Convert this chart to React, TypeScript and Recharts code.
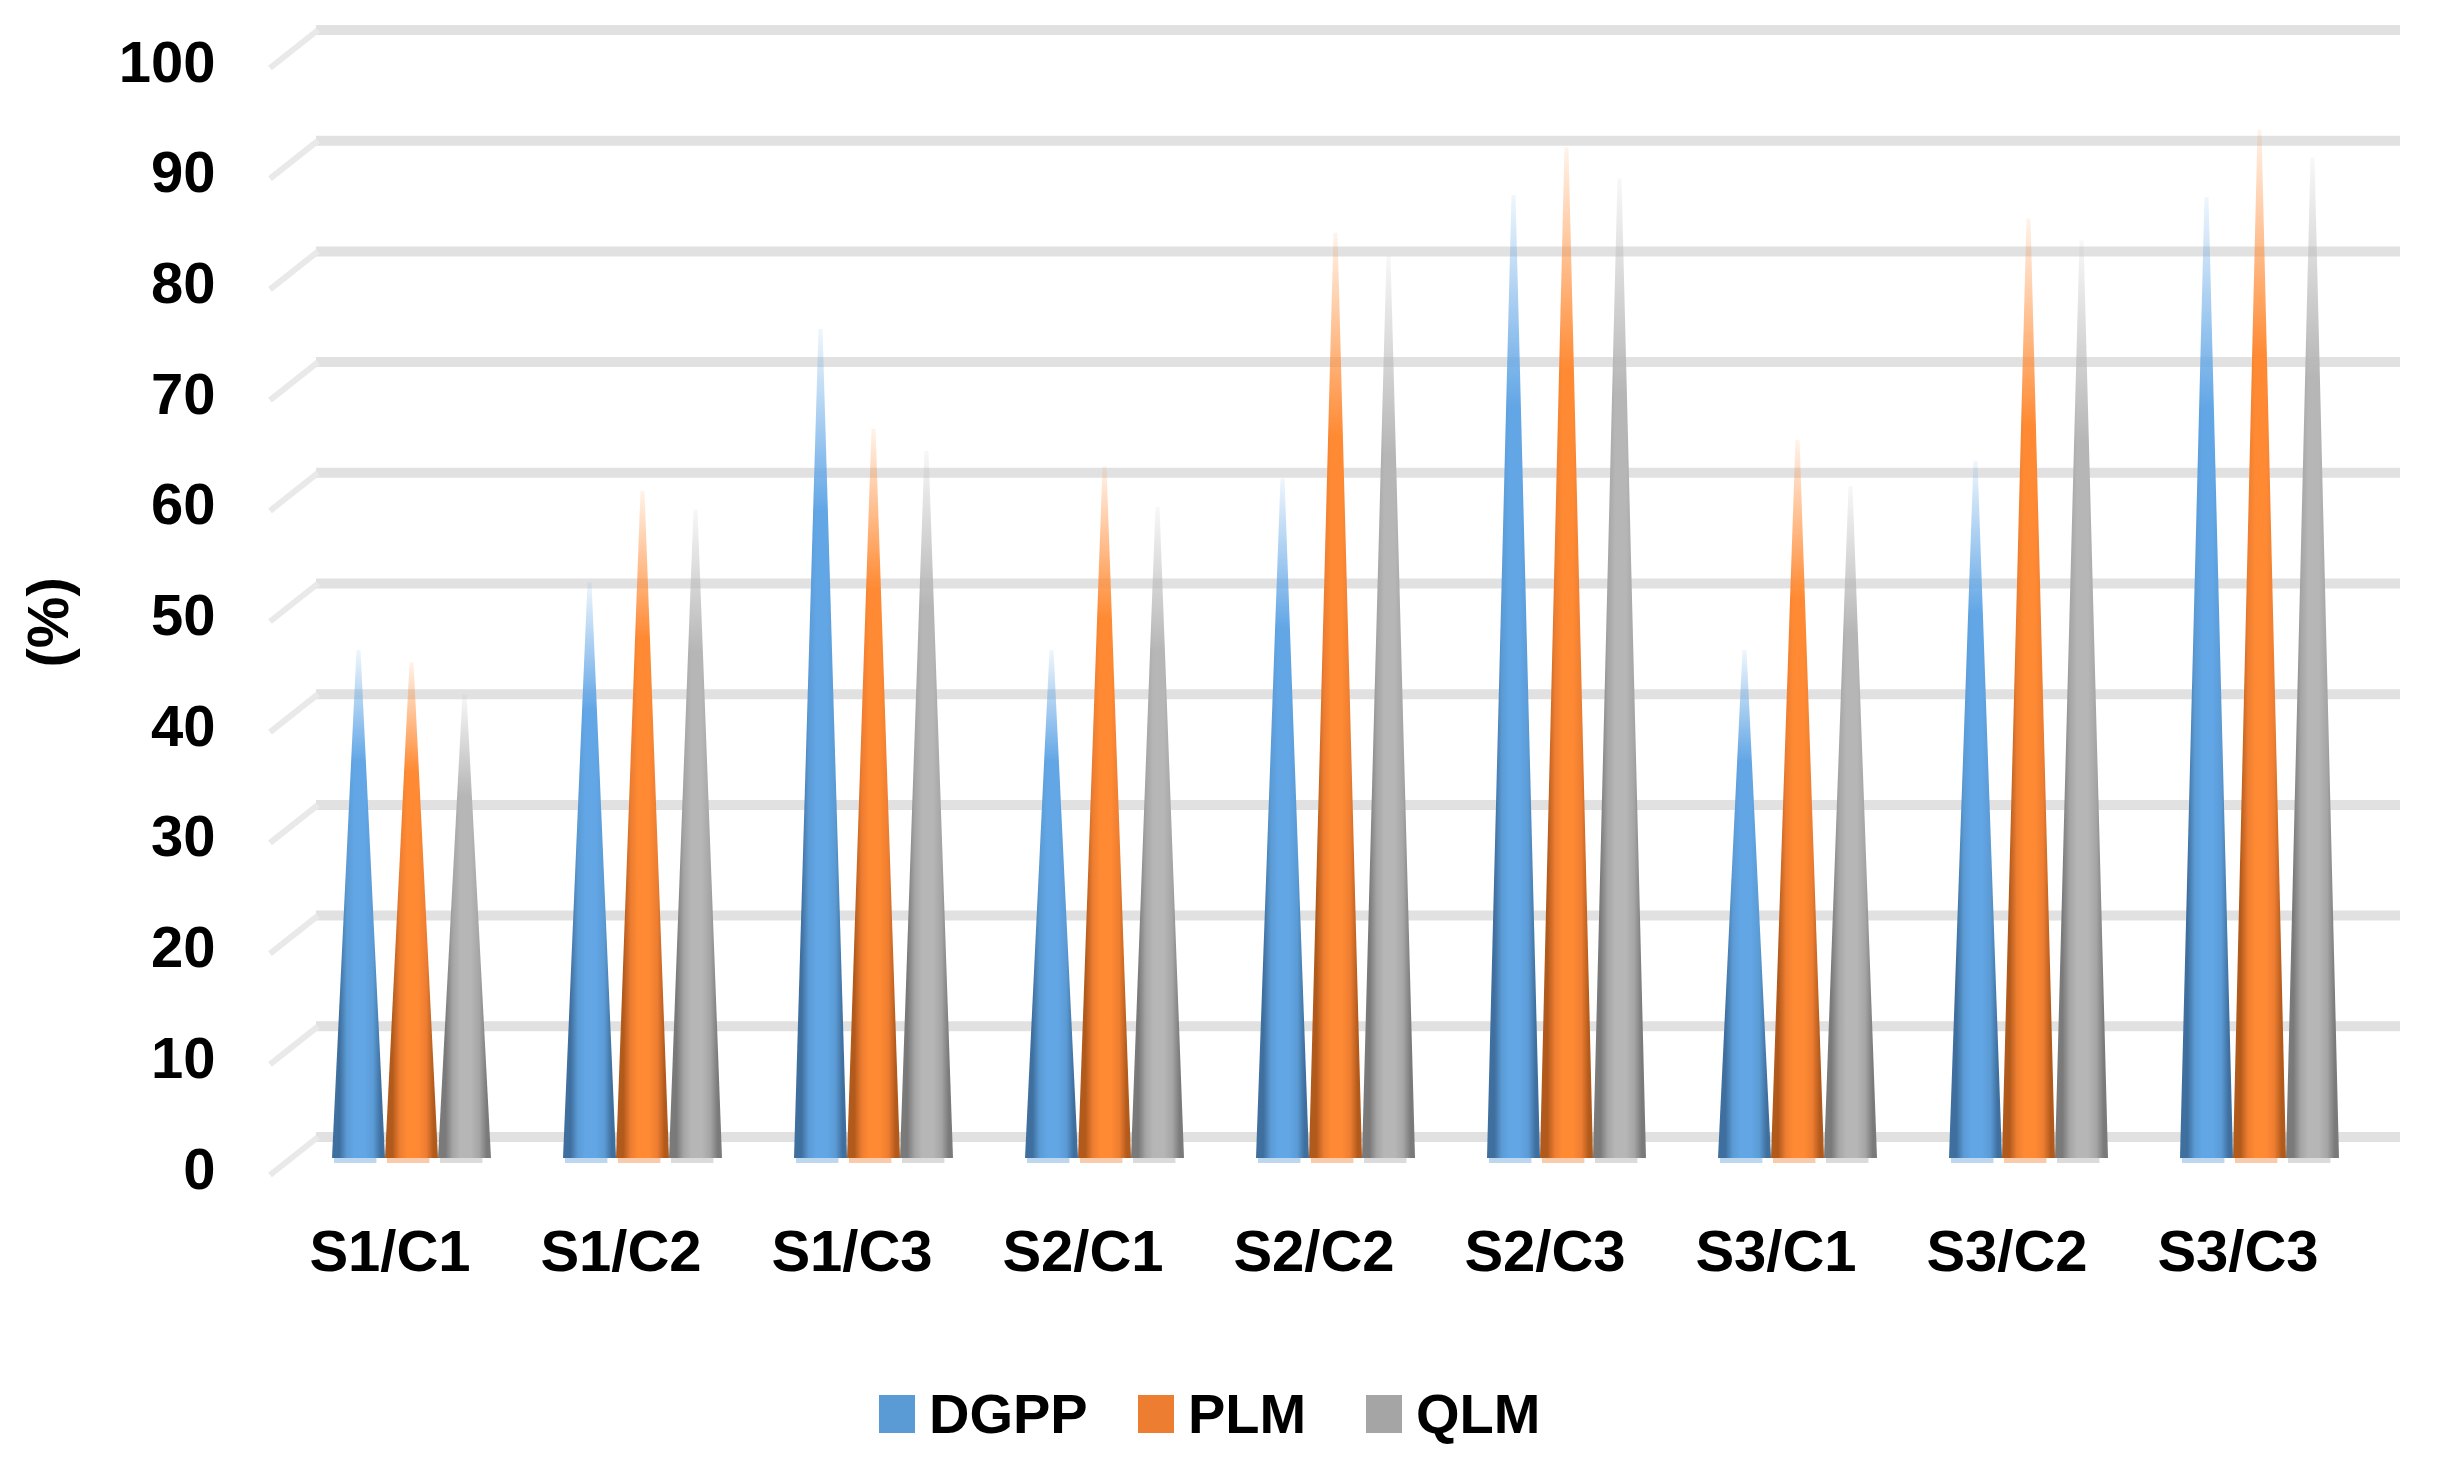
import { Bar, BarChart, CartesianGrid, Legend, XAxis, YAxis } from "recharts";

const CATEGORIES = ["S1/C1", "S1/C2", "S1/C3", "S2/C1", "S2/C2", "S2/C3", "S3/C1", "S3/C2", "S3/C3"];
const DGPP = [45.9, 52, 74.9, 45.9, 61.4, 87, 45.9, 63, 86.8];
const PLM = [44.8, 60.3, 65.9, 62.5, 83.6, 91.3, 64.9, 84.9, 92.9];
const QLM = [41.9, 58.6, 63.9, 58.8, 81.5, 88.5, 60.7, 82.9, 90.4];
const Y_TICKS = [0, 10, 20, 30, 40, 50, 60, 70, 80, 90, 100];

const data = CATEGORIES.map((name, i) => ({ name, DGPP: DGPP[i], PLM: PLM[i], QLM: QLM[i] }));

const FONT = '"Liberation Sans", Arial, sans-serif';

const SERIES = [
  { key: "DGPP", color: "#5B9BD5", edge: "#3F6F9E", mid: "#62A6E6" },
  { key: "PLM", color: "#ED7D31", edge: "#B25A1C", mid: "#FF8A33" },
  { key: "QLM", color: "#A5A5A5", edge: "#7A7A7A", mid: "#B6B6B6" },
];

// cone drawn from the bar rectangle that recharts computes
function Cone(props: any) {
  const { x, y, width, height, id, color } = props;
  const tip = x + width / 2;
  return (
    <g>
      <path
        d={`M${x},${y + height} L${tip - 2},${y} L${tip + 2},${y} L${x + width},${y + height} Z`}
        fill={`url(#cone-${id})`}
        mask="url(#cone-fade)"
      />
      <rect x={x + 2} y={y + height} width={width * 0.8} height={5} fill={color} fillOpacity={0.4} />
    </g>
  );
}

// gridline sits on the back wall, with the short diagonal going to the front
function WallLine(props: any) {
  const { y1 } = props;
  return (
    <g>
      <line x1={316} y1={y1 - 21} x2={2400} y2={y1 - 21} stroke="#E1E1E1" strokeWidth={10} />
      <line x1={318} y1={y1 - 21} x2={270} y2={y1 + 17} stroke="#E9E9E9" strokeWidth={6} />
    </g>
  );
}

function LegendRow({ payload }: any) {
  const left = [0, 259, 487];
  return (
    <div style={{ position: "relative", height: 52, fontFamily: FONT, fontSize: 56, fontWeight: 700, color: "#000" }}>
      {(payload ?? []).map((p: any, i: number) => (
        <div key={p.value} style={{ position: "absolute", left: left[i], top: 0, display: "flex", alignItems: "center", height: 52, lineHeight: "52px" }}>
          <span style={{ width: 36, height: 38, background: p.color, marginRight: 14 }} />
          {p.value}
        </div>
      ))}
    </div>
  );
}

export default function App() {
  return (
    <div style={{ position: "absolute", left: 0, top: 0, width: 2437, height: 1477, background: "#fff" }}>
      <BarChart
        width={2437}
        height={1477}
        data={data}
        margin={{ top: 51, right: 62.5, bottom: 127, left: 0 }}
        barCategoryGap={36.5}
        barGap={0}
      >
        <defs>
          {SERIES.map((s) => (
            <linearGradient key={s.key} id={`cone-${s.key}`} x1="0" y1="0" x2="1" y2="0">
              <stop offset="0%" stopColor={s.edge} />
              <stop offset="14%" stopColor={s.edge} />
              <stop offset="28%" stopColor={s.color} />
              <stop offset="42%" stopColor={s.mid} />
              <stop offset="62%" stopColor={s.mid} />
              <stop offset="78%" stopColor={s.color} />
              <stop offset="92%" stopColor={s.edge} />
              <stop offset="100%" stopColor={s.edge} />
            </linearGradient>
          ))}
          <linearGradient id="cone-fade-grad" x1="0" y1="0" x2="0" y2="1">
            <stop offset="0%" stopColor="#fff" stopOpacity={0.1} />
            <stop offset="22%" stopColor="#fff" stopOpacity={1} />
          </linearGradient>
          <mask id="cone-fade" maskContentUnits="objectBoundingBox">
            <rect x={0} y={0} width={1} height={1} fill="url(#cone-fade-grad)" />
          </mask>
        </defs>
        <CartesianGrid vertical={false} horizontal={(p: any) => <WallLine key={p.key} {...p} />} />
        <XAxis
          dataKey="name"
          height={140}
          axisLine={false}
          tickLine={false}
          tickSize={0}
          tickMargin={72}
          interval={0}
          tick={{ fontFamily: FONT, fontSize: 58, fontWeight: 700, fill: "#000", dx: -21 }}
        />
        <YAxis
          width={295.5}
          domain={[0, 100]}
          ticks={Y_TICKS}
          axisLine={false}
          tickLine={false}
          tickSize={0}
          tickMargin={80}
          tick={{ fontFamily: FONT, fontSize: 58, fontWeight: 700, fill: "#000", dy: 10 }}
          label={{
            value: "(%)",
            angle: -90,
            position: "insideLeft",
            dx: 42,
            dy: 63,
            fontFamily: FONT,
            fontSize: 58,
            fontWeight: 700,
            fill: "#000",
          }}
        />
        {SERIES.map((s) => (
          <Bar
            key={s.key}
            dataKey={s.key}
            fill={s.color}
            isAnimationActive={false}
            shape={(p: any) => <Cone {...p} id={s.key} color={s.color} />}
          />
        ))}
        <Legend content={<LegendRow />} wrapperStyle={{ left: 879, top: 1388, width: 700, height: 52 }} />
      </BarChart>
    </div>
  );
}
